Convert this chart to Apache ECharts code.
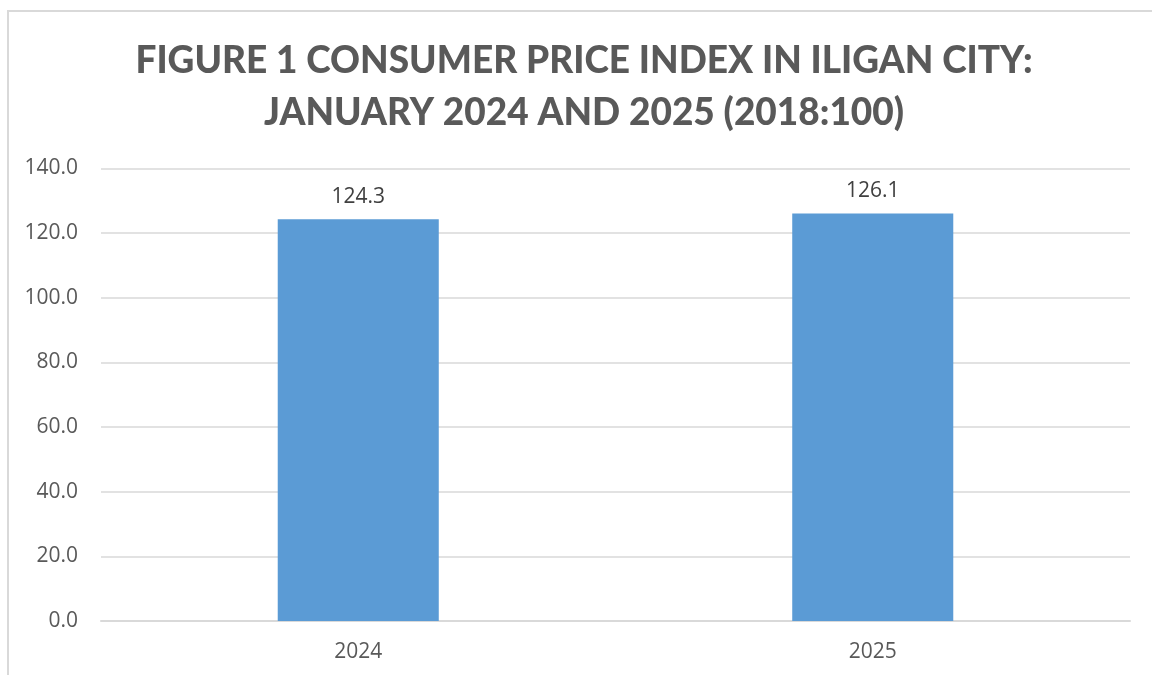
<!DOCTYPE html>
<html>
<head>
<meta charset="utf-8">
<script src="https://cdn.jsdelivr.net/npm/echarts@6/dist/echarts.min.js"></script>
<style>
  html, body { margin: 0; padding: 0; background: #fff; }
  #chart { width: 1152px; height: 675px; }
</style>
</head>
<body>
<div id="chart"></div>
<script>
// chart data
const years = ['2024', '2025'];
const cpi = [124.3, 126.1];

const chart = echarts.init(document.getElementById('chart'));
chart.setOption({
  animation: false,
  graphic: [{
    type: 'rect',
    shape: { x: 8, y: 11, width: 1150, height: 700 },
    style: { fill: 'none', stroke: '#d9d9d9', lineWidth: 2 }
  }],
  title: {
    text: 'FIGURE 1 CONSUMER PRICE INDEX IN ILIGAN CITY:\nJANUARY 2024 AND 2025 (2018:100)',
    left: 579,
    textAlign: 'center',
    top: 30,
    textStyle: {
      fontFamily: 'Lato',
      fontWeight: 900,
      fontSize: 37,
      lineHeight: 52,
      color: '#595959'
    }
  },
  grid: { left: 101, right: 22, top: 168.5, bottom: 54 },
  xAxis: {
    type: 'category',
    data: years,
    axisTick: { show: false },
    axisLine: { lineStyle: { color: '#d9d9d9', width: 2 } },
    axisLabel: { color: '#595959', fontSize: 21, fontFamily: 'Open Sans', margin: 21 }
  },
  yAxis: {
    type: 'value',
    min: 0,
    max: 140,
    interval: 20,
    axisLabel: {
      color: '#595959', fontSize: 21, fontFamily: 'Open Sans', margin: 23,
      formatter: v => v.toFixed(1)
    },
    splitLine: { lineStyle: { color: '#d9d9d9', width: 1.5 } }
  },
  series: [{
    type: 'bar',
    data: cpi,
    barWidth: '31.3%',
    itemStyle: { color: '#5b9bd5' },
    label: {
      show: true,
      position: 'top',
      distance: 12,
      color: '#404040',
      fontSize: 21,
      fontFamily: 'Open Sans',
      formatter: p => p.value.toFixed(1)
    }
  }]
});
</script>
</body>
</html>
